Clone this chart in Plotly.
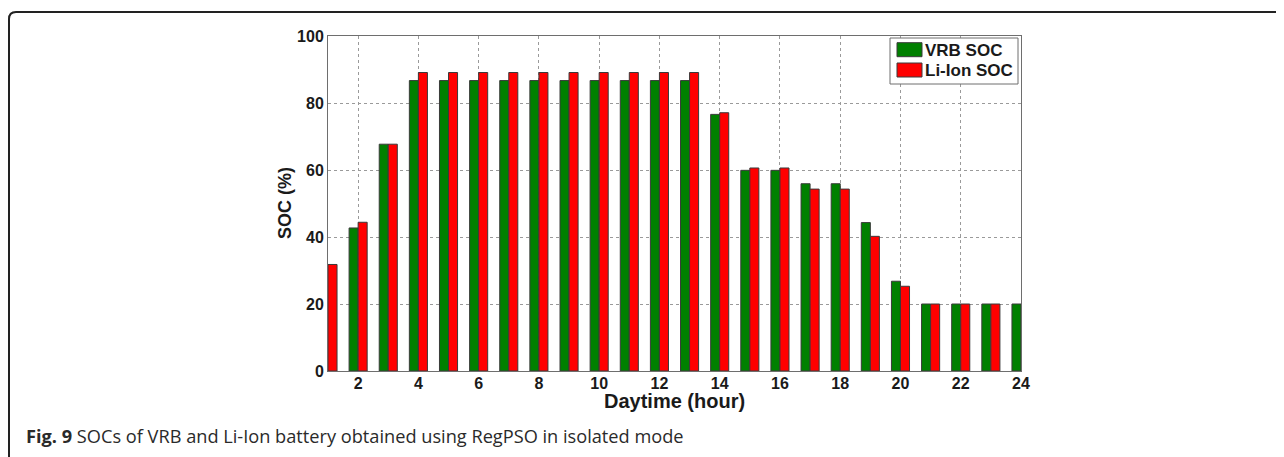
import plotly.graph_objects as go

hours = [1, 2, 3, 4, 5, 6, 7, 8, 9, 10, 11, 12, 13, 14, 15, 16, 17, 18, 19, 20, 21, 22, 23, 24]
vrb_soc = [None, 42.7, 67.7, 86.7, 86.7, 86.7, 86.7, 86.7, 86.7, 86.7, 86.7, 86.7, 86.7,
           76.6, 59.9, 59.9, 55.9, 55.9, 44.3, 26.8, 20.0, 20.0, 20.0, 20.0]
liion_soc = [31.8, 44.4, 67.7, 89.1, 89.1, 89.1, 89.1, 89.1, 89.1, 89.1, 89.1, 89.1, 89.1,
             77.1, 60.6, 60.6, 54.3, 54.3, 40.2, 25.3, 20.0, 20.0, 20.0, None]
x_ticks = [2, 4, 6, 8, 10, 12, 14, 16, 18, 20, 22, 24]
y_ticks = [0, 20, 40, 60, 80, 100]
series_names = ["VRB SOC", "Li-Ion SOC"]
series_colors = ["#008000", "#FF0000"]

W, H = 1284, 457
OFF = 8  # page body margin
L, R, T, B = 328, 1021, 36, 371  # plot area in screen px
pw, ph = R - L, B - T


def px(xp):
    return (xp - L) / pw


def py(yp):
    return (B - yp) / ph


FONT = "Liberation Sans, Arial, sans-serif"
TXT = "#1a1a1a"

fig = go.Figure()
for name, vals, col in zip(series_names, [vrb_soc, liion_soc], series_colors):
    fig.add_trace(go.Bar(x=hours, y=vals, name=name,
                         marker=dict(color=col, line=dict(color="#3a3a3a", width=1))))

axis_common = dict(
    showline=True, mirror=True, linecolor="#6e6e6e", linewidth=1,
    showgrid=True, gridcolor="#9a9a9a", griddash="dot", gridwidth=1,
    zeroline=False, ticks="",
    tickfont=dict(family=FONT, size=16, color=TXT, weight="bold"),
)

fig.update_layout(
    width=W, height=H,
    margin=dict(l=L - OFF, r=W - (R - OFF), t=T - OFF, b=H - (B - OFF), pad=0),
    paper_bgcolor="white", plot_bgcolor="white",
    barmode="group", bargap=0.4, bargroupgap=0,
    xaxis=dict(range=[1, 24], tickvals=x_ticks, ticktext=[str(v) for v in x_ticks],
               ticklabelstandoff=-2, **axis_common),
    yaxis=dict(range=[0, 100], tickvals=y_ticks, ticktext=[str(v) for v in y_ticks],
               **axis_common),
    showlegend=False,
)

# axis titles
fig.add_annotation(xref="paper", yref="paper", x=px(674), y=py(401),
                   xanchor="center", yanchor="middle", showarrow=False,
                   text="Daytime (hour)",
                   font=dict(family=FONT, size=20, color=TXT, weight="bold"))
fig.add_annotation(xref="paper", yref="paper", x=px(285), y=py(203),
                   xanchor="center", yanchor="middle", showarrow=False, textangle=-90,
                   text="SOC (%)",
                   font=dict(family=FONT, size=18, color=TXT, weight="bold"))

# legend (box, swatches, labels)
fig.add_shape(type="rect", xref="paper", yref="paper",
              x0=px(890), x1=px(1018), y0=py(84), y1=py(38),
              fillcolor="white", line=dict(color="#6e6e6e", width=1), layer="above")
for i, (name, col) in enumerate(zip(series_names, series_colors)):
    top = 42.7 + i * 20.3
    fig.add_shape(type="rect", xref="paper", yref="paper",
                  x0=px(897), x1=px(922), y0=py(top + 14), y1=py(top),
                  fillcolor=col, line=dict(color="#3a3a3a", width=1), layer="above")
    fig.add_annotation(xref="paper", yref="paper", x=px(923), y=py(top + 7.5),
                       xanchor="left", yanchor="middle", showarrow=False,
                       text=name, font=dict(family=FONT, size=17, color=TXT, weight="bold"))

# caption
fig.add_annotation(xref="paper", yref="paper", x=px(24), y=py(436),
                   xanchor="left", yanchor="middle", showarrow=False,
                   text="<b>Fig. 9</b> SOCs of VRB and Li-Ion battery obtained using RegPSO in isolated mode",
                   font=dict(family="Open Sans, sans-serif", size=18.2, color="#2a2a2a"))

# outer bracket frame (top line + left line with rounded corner)
x0, y0 = px(9), py(12)
rx, ry = 7 / pw, 7 / ph
path = (f"M {px(1300)},{y0} L {x0 + rx},{y0} Q {x0},{y0} {x0},{y0 - ry} "
        f"L {x0},{py(470)}")
fig.add_shape(type="path", xref="paper", yref="paper", path=path,
              line=dict(color="#222222", width=2))

fig.write_html("out.html")
